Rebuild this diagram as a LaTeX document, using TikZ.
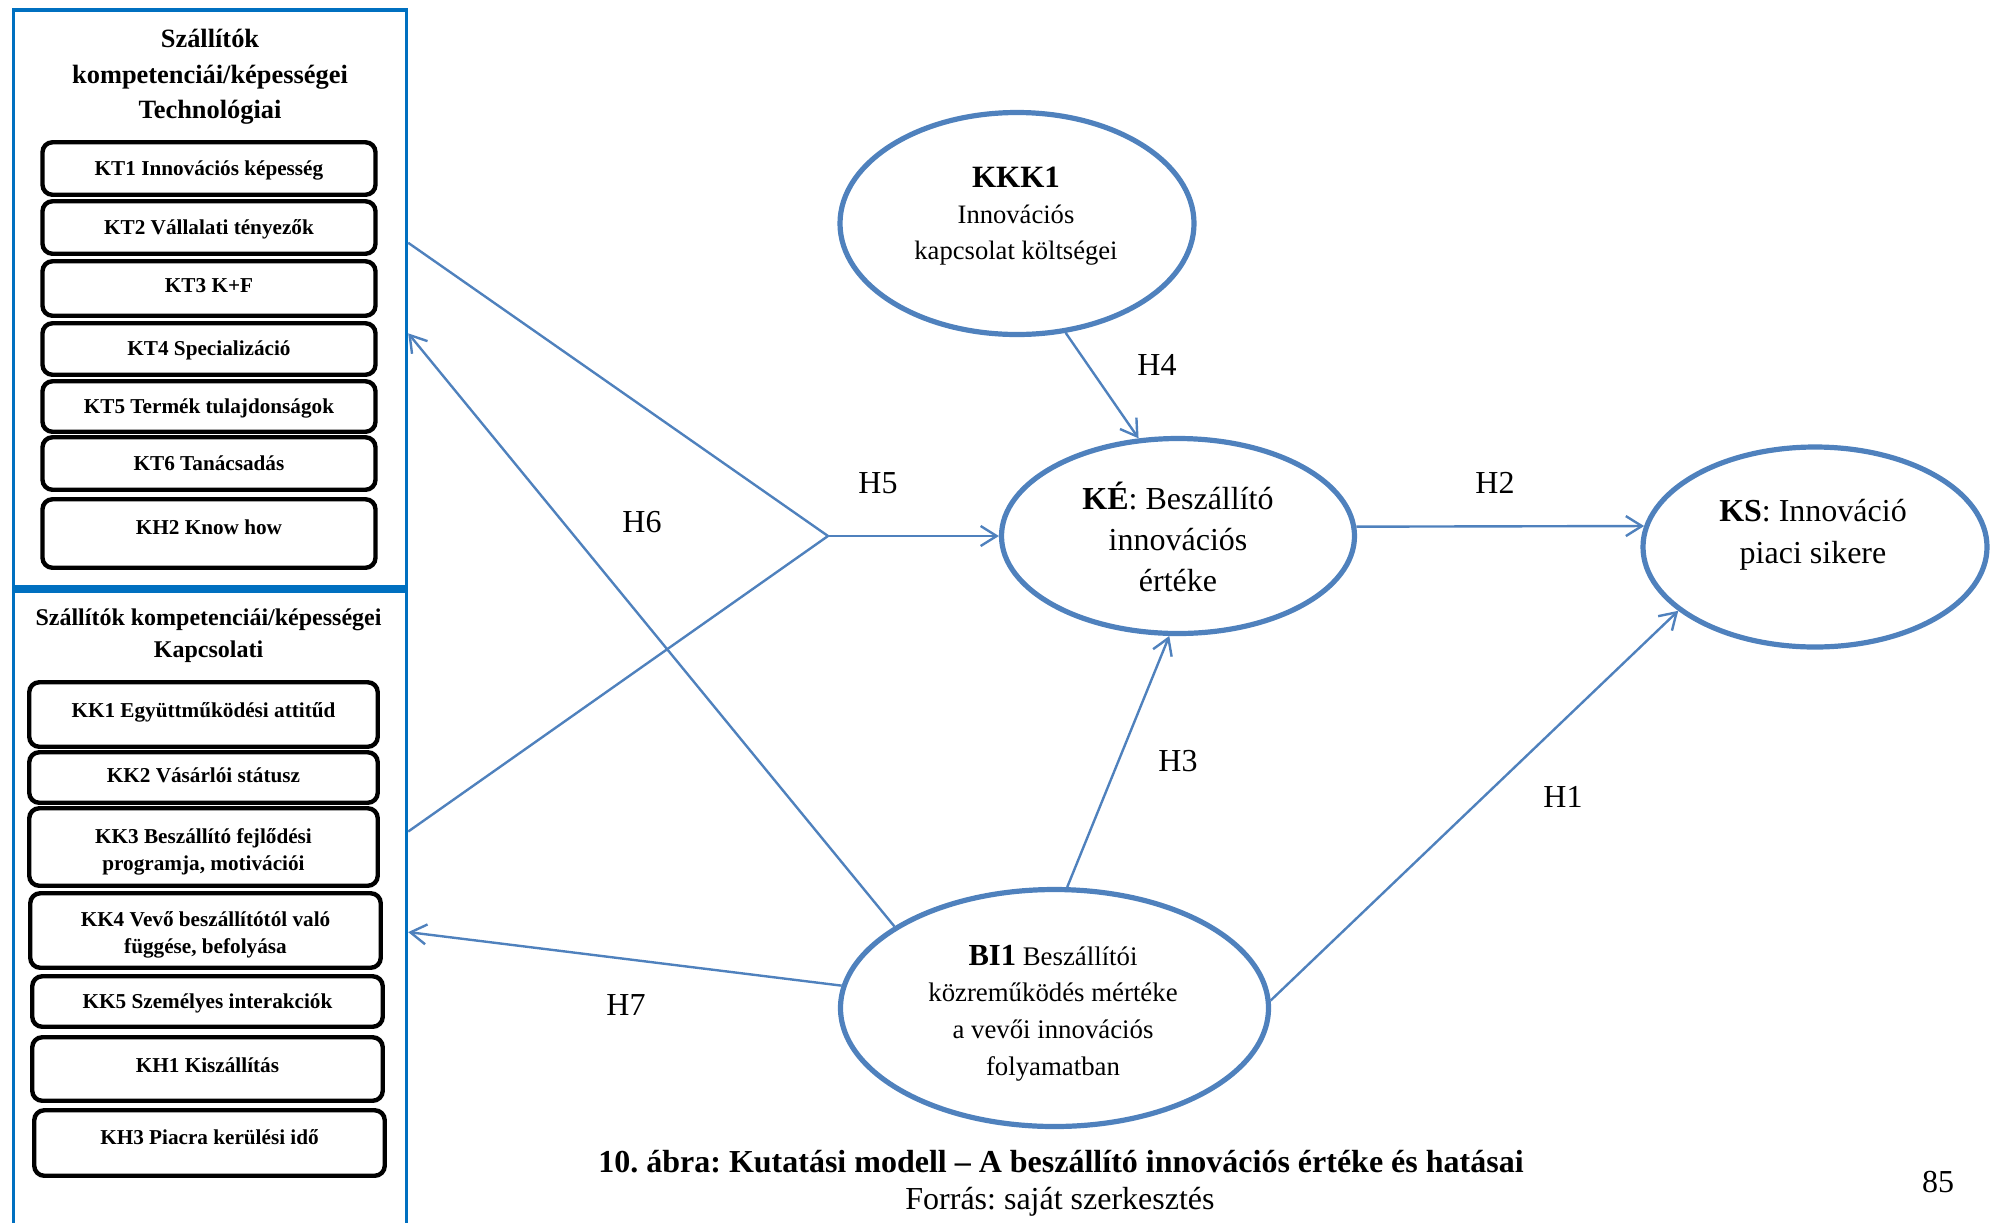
\documentclass[tikz,border=0pt]{standalone}
\usepackage{fontspec}
\setmainfont{Liberation Serif}
\usetikzlibrary{arrows.meta,shapes.geometric,calc}
\definecolor{frameblue}{HTML}{0070C0}
\definecolor{accent}{HTML}{4F81BD}
\begin{document}
\frenchspacing
\begin{tikzpicture}[x=0.5pt,y=-0.5pt,
  frame/.style={draw=frameblue,line width=1.7pt,inner sep=0pt},
  item/.style={draw=black,line width=2.2pt,rounded corners=5pt,inner sep=0pt,
    font=\fontsize{10.6}{13.5}\selectfont\bfseries,text height=7.5pt,text depth=0.75pt},
  itembox/.style={draw=black,line width=2.2pt,rounded corners=5pt,inner sep=0pt},
  itemtext/.style={font=\fontsize{10.6}{13.5}\selectfont\bfseries,align=center,inner sep=0pt},
  lift/.style={text depth=#1},
  oval/.style={ellipse,draw=accent,line width=2.6pt,inner sep=0pt},
  wire/.style={draw=accent,line width=1.2pt},
  link/.style={wire,-{Straight Barb[length=8pt,width=10pt]}},
  hyp/.style={font=\fontsize{16}{18}\selectfont},
]
\useasboundingbox (0,0) rectangle (1992,1222);

% ---------- left panels ----------
\begin{scope}
\clip (0,0) rectangle (1992,1222);
\node[frame,minimum width=196.5pt,minimum height=288.5pt] (tech) at (210,298.5) {};
\node[frame,minimum width=196.5pt,minimum height=329.5pt] (kapc) at (210,920.5) {};
\end{scope}

\node[align=center,font=\fontsize{13.2}{17.7}\selectfont\bfseries] (techtitle) at (210,77)
  {Szállítók\\kompetenciái/képességei\\Technológiai};

\node[item,minimum width=166.5pt,minimum height=26.25pt] (kt1) at (209,168.5) {KT1 Innovációs képesség};
\node[item,minimum width=166.5pt,minimum height=26.25pt] (kt2) at (209,227.5) {KT2 Vállalati tényezők};
\node[item,lift=4pt,minimum width=166.5pt,minimum height=27.25pt] (kt3) at (209,288.5) {KT3 K+F};
\node[item,minimum width=166.5pt,minimum height=25.75pt] (kt4) at (209,349) {KT4 Specializáció};
\node[item,minimum width=166.5pt,minimum height=25.25pt] (kt5) at (209,406.5) {KT5 Termék tulajdonságok};
\node[item,minimum width=166.5pt,minimum height=26.25pt] (kt6) at (209,463.5) {KT6 Tanácsadás};
\node[item,lift=6.5pt,minimum width=166.5pt,minimum height=34.25pt] (kh2) at (209,533.5) {KH2 Know how};

\node[align=center,font=\fontsize{12}{16}\selectfont\bfseries] (kapctitle) at (208.5,636)
  {Szállítók kompetenciái/képességei\\Kapcsolati};

\node[item,lift=5pt,minimum width=174.25pt,minimum height=32.25pt] (kk1) at (203.5,714.5) {KK1 Együttműködési attitűd};
\node[item,lift=2.5pt,minimum width=174.25pt,minimum height=25.25pt] (kk2) at (203.5,777.5) {KK2 Vásárlói státusz};
\node[itembox,minimum width=174.25pt,minimum height=38.75pt] (kk3) at (203.5,847) {};
\node[itemtext] (kk3text) at ([yshift=-2.5pt]kk3.center) {KK3 Beszállító fejlődési\\programja, motivációi};
\node[itembox,minimum width=175.25pt,minimum height=37.25pt] (kk4) at (205.5,930.5) {};
\node[itemtext] (kk4text) at ([yshift=-2pt]kk4.center) {KK4 Vevő beszállítótól való\\függése, befolyása};
\node[item,minimum width=175.25pt,minimum height=25.25pt] (kk5) at (207.5,1001.5) {KK5 Személyes interakciók};
\node[item,lift=4.5pt,minimum width=175.25pt,minimum height=31.75pt] (kh1) at (207.5,1069) {KH1 Kiszállítás};
\node[item,lift=6.5pt,minimum width=175.25pt,minimum height=32.75pt] (kh3) at (209.5,1143) {KH3 Piacra kerülési idő};

% ---------- constructs ----------
\node[oval,minimum width=177pt,minimum height=111pt] (kkk1) at (1017,223.5) {};
\node[oval,minimum width=176.5pt,minimum height=97.5pt] (ke) at (1178,536) {};
\node[oval,minimum width=172pt,minimum height=100pt] (ks) at (1815,547) {};
\node[oval,minimum width=214pt,minimum height=118.5pt] (bi1) at (1054.5,1008) {};

\node[align=center,font=\fontsize{13.3}{18}\selectfont] (kkk1text) at (1016,216)
  {{\fontsize{15.5}{18}\selectfont\bfseries KKK1}\\Innovációs\\kapcsolat költségei};
\node[align=center,font=\fontsize{16}{20.5}\selectfont] (ketext) at (1178,537)
  {\textbf{KÉ}: Beszállító\\innovációs\\értéke};
\node[align=center,font=\fontsize{16}{21}\selectfont] (kstext) at (1813,535)
  {\textbf{KS}: Innováció\\piaci sikere};
\node[align=center,font=\fontsize{13.4}{18.3}\selectfont] (bi1text) at (1053,1013)
  {{\fontsize{15.3}{18.3}\selectfont\bfseries BI1} Beszállítói\\közreműködés mértéke\\a vevői innovációs\\folyamatban};

% ---------- hypotheses ----------
\coordinate (jn) at (828,536);
\draw[wire] ($(tech.north east)!0.404!(tech.south east)$) -- (jn);
\draw[wire] ($(kapc.north east)!0.3657!(kapc.south east)$) -- (jn);
\draw[link] (jn) -- (ke.180);
\draw[link] (bi1.153.4) -- ($(tech.north east)!0.56!(tech.south east)$);
\draw[link] (bi1.174.4) -- ($(kapc.north east)!0.5175!(kapc.south east)$);
\draw[link] (kkk1.-66.6) -- (ke.112.5);
\draw[link] (ke.3) -- (ks.173.5);
\draw[link] (bi1.84.4) -- (ke.-95.6);
\draw[link] (bi1.2.9) -- (ks.205.5);

\node[hyp] (h4) at (1157,365) {H4};
\node[hyp] (h5) at (878,483) {H5};
\node[hyp] (h2) at (1495,483) {H2};
\node[hyp] (h6) at (642,522) {H6};
\node[hyp] (h3) at (1178,761) {H3};
\node[hyp] (h1) at (1563,797) {H1};
\node[hyp] (h7) at (626,1005) {H7};

% ---------- caption ----------
\node[font=\fontsize{16}{18}\selectfont\bfseries] (cap) at (1061,1162)
  {10. ábra: Kutatási modell – A beszállító innovációs értéke és hatásai};
\node[font=\fontsize{16}{18}\selectfont] (src) at (1060,1202) {Forrás: saját szerkesztés};
\node[font=\fontsize{16}{18}\selectfont] (page) at (1938,1182) {85};
\end{tikzpicture}
\end{document}
